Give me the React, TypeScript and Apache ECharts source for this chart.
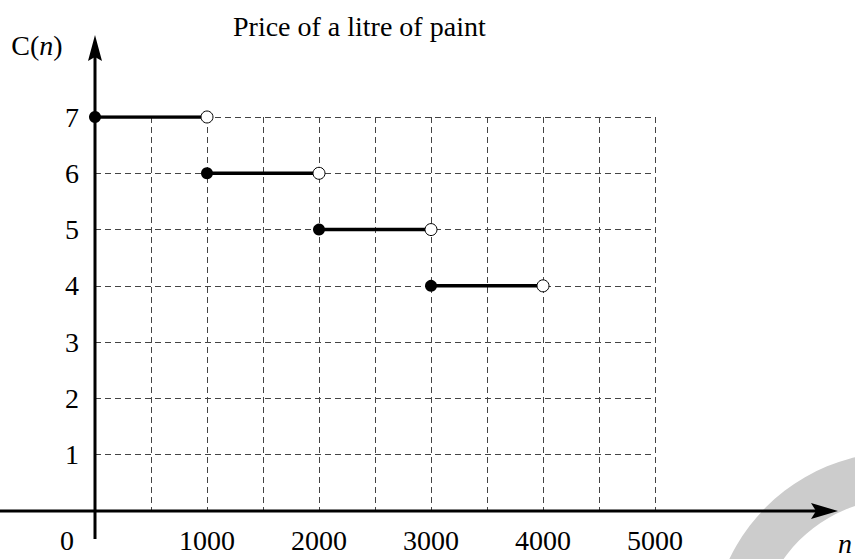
import React, { useEffect, useRef } from "react";
import * as echarts from "echarts";

const chartTitle = "Price of a litre of paint";
const priceLevels = [7, 6, 5, 4];
const segmentStarts = [0, 1000, 2000, 3000];
const segmentEnds = [1000, 2000, 3000, 4000];
const xTickLabels = [1000, 2000, 3000, 4000, 5000];
const yTickLabels = [1, 2, 3, 4, 5, 6, 7];

const SERIF = '"Liberation Serif", "Times New Roman", serif';
const FS = 28;

export default function App() {
  const ref = useRef<HTMLDivElement>(null);
  useEffect(() => {
    if (!ref.current) return;
    const chart = echarts.init(ref.current, undefined, { renderer: "svg" });
    const segSeries = priceLevels.map((lvl, i) => ({
      type: "line",
      data: [
        [segmentStarts[i], lvl],
        [segmentEnds[i], lvl],
      ],
      symbol: "none",
      lineStyle: { color: "#000", width: 3.5 },
      z: 5,
    }));
    const option: any = {
      animation: false,
      title: {
        text: chartTitle,
        left: 228,
        top: 7,
        textStyle: { fontFamily: SERIF, fontSize: FS, fontWeight: "normal", color: "#000" },
      },
      grid: { left: 95, top: 117, width: 560, height: 394, containLabel: false },
      xAxis: {
        type: "value",
        min: 0,
        max: 5000,
        interval: 500,
        axisLine: { show: false },
        axisTick: { show: false },
        axisLabel: {
          margin: 15,
          fontFamily: SERIF,
          fontSize: FS,
          color: "#000",
          formatter: (v: number) => (xTickLabels.includes(v) ? String(v) : ""),
        },
        splitLine: { show: true, lineStyle: { color: "#444", width: 1, type: [6, 4] } },
      },
      yAxis: {
        type: "value",
        min: 0,
        max: 7,
        interval: 1,
        axisLine: { show: false },
        axisTick: { show: false },
        axisLabel: {
          margin: 16,
          fontFamily: SERIF,
          fontSize: FS,
          color: "#000",
          formatter: (v: number) => (yTickLabels.includes(v) ? String(v) : ""),
        },
        splitLine: { show: true, lineStyle: { color: "#444", width: 1, type: [6, 4] } },
      },
      series: [
        ...segSeries,
        {
          type: "scatter",
          data: priceLevels.map((lvl, i) => [segmentStarts[i], lvl]),
          symbol: "circle",
          symbolSize: 12,
          itemStyle: { color: "#000", opacity: 1 },
          z: 10,
        },
        {
          type: "scatter",
          data: priceLevels.map((lvl, i) => [segmentEnds[i], lvl]),
          symbol: "circle",
          symbolSize: 12,
          itemStyle: { color: "#fff", borderColor: "#000", borderWidth: 1, opacity: 1 },
          z: 10,
        },
      ],
      graphic: [
        {
          type: "ring",
          shape: { cx: 899, cy: 640, r: 188, r0: 141 },
          style: { fill: "#cccccc" },
          z: 1,
          silent: true,
        },
        {
          type: "line",
          shape: { x1: 95, y1: 539, x2: 95, y2: 50 },
          style: { stroke: "#000", lineWidth: 3 },
          z: 20,
        },
        {
          type: "polygon",
          shape: { points: [[95, 35], [102, 61], [95, 57], [88, 61]] },
          style: { fill: "#000" },
          z: 20,
        },
        {
          type: "line",
          shape: { x1: 0, y1: 511, x2: 825, y2: 511 },
          style: { stroke: "#000", lineWidth: 3 },
          z: 20,
        },
        {
          type: "polygon",
          shape: { points: [[838, 511], [811, 503], [816, 511], [811, 519]] },
          style: { fill: "#000" },
          z: 20,
        },
        {
          type: "text",
          x: 67,
          y: 540,
          style: { text: "0", font: `${FS}px ${SERIF}`, fill: "#000", align: "center", verticalAlign: "middle" },
          z: 20,
        },
        {
          type: "text",
          x: 845,
          y: 543,
          style: { text: "n", font: `italic ${FS}px ${SERIF}`, fill: "#000", align: "center", verticalAlign: "middle" },
          z: 20,
        },
        {
          type: "text",
          x: 37,
          y: 45,
          style: {
            text: "{a|C(}{b|n}{a|)}",
            align: "center",
            verticalAlign: "middle",
            rich: {
              a: { fontFamily: SERIF, fontSize: FS, fill: "#000" },
              b: { fontFamily: SERIF, fontSize: FS, fontStyle: "italic", fill: "#000" },
            },
          },
          z: 20,
        },
      ],
    };
    chart.setOption(option);
    return () => chart.dispose();
  }, []);
  return (
    <div
      ref={ref}
      style={{ position: "fixed", left: 0, top: 0, width: 855, height: 559, background: "#fff" }}
    />
  );
}
